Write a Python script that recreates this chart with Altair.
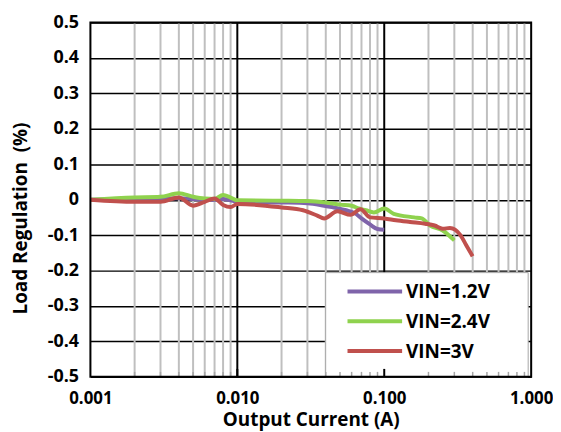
import altair as alt
import pandas as pd

series = ["VIN=1.2V", "VIN=2.4V", "VIN=3V"]
colors = ["#7F64AA", "#8FD24E", "#C0504D"]

i_12 = [0.001, 0.002, 0.003, 0.004, 0.005, 0.006, 0.007, 0.008, 0.009, 0.01,
        0.02, 0.03, 0.039, 0.048, 0.055, 0.063, 0.07, 0.08, 0.09, 0.1]
v_12 = [0.0, 0.002, 0.002, 0.004, 0.002, 0.0, 0.0, 0.002, -0.002, -0.006,
        -0.008, -0.01, -0.017, -0.024, -0.03, -0.038, -0.053, -0.07, -0.083, -0.085]

i_24 = [0.001, 0.002, 0.003, 0.004, 0.005, 0.006, 0.007, 0.008, 0.009, 0.01,
        0.02, 0.03, 0.04, 0.05, 0.06, 0.067, 0.075, 0.085, 0.1, 0.116,
        0.16, 0.18, 0.205, 0.25, 0.3]
v_24 = [0.0, 0.006, 0.008, 0.018, 0.008, 0.003, 0.002, 0.013, 0.006, -0.002,
        -0.003, -0.004, -0.008, -0.014, -0.017, -0.025, -0.03, -0.036, -0.025, -0.04,
        -0.05, -0.053, -0.073, -0.087, -0.115]

i_30 = [0.001, 0.002, 0.003, 0.004, 0.005, 0.006, 0.007, 0.008, 0.009, 0.01,
        0.02, 0.028, 0.035, 0.039, 0.048, 0.059, 0.069, 0.08, 0.1, 0.12,
        0.15, 0.19, 0.22, 0.25, 0.28, 0.33, 0.36, 0.40]
v_30 = [0.0, -0.006, -0.006, 0.006, -0.017, -0.006, 0.003, -0.015, -0.021, -0.012,
        -0.022, -0.03, -0.045, -0.053, -0.033, -0.043, -0.027, -0.05, -0.053, -0.058,
        -0.063, -0.068, -0.073, -0.082, -0.08, -0.1, -0.127, -0.16]

minor_ticks = [0.002, 0.003, 0.004, 0.005, 0.006, 0.007, 0.008, 0.009,
               0.02, 0.03, 0.04, 0.05, 0.06, 0.07, 0.08, 0.09,
               0.2, 0.3, 0.4, 0.5, 0.6, 0.7, 0.8, 0.9]
major_ticks = [0.01, 0.1]
x_labels = [0.001, 0.01, 0.1, 1.0]
y_labels = [0.5, 0.4, 0.3, 0.2, 0.1, 0.0, -0.1, -0.2, -0.3, -0.4, -0.5]

rows = []
for name, xs, ys in zip(series, [i_12, i_24, i_30], [v_12, v_24, v_30]):
    for k, (a, b) in enumerate(zip(xs, ys)):
        rows.append({"series": name, "I": a, "V": b, "k": k})
df = pd.DataFrame(rows)

W, H = 444, 357
FONT = "Open Sans"

xscale = alt.Scale(type="log", domain=[0.001, 1.0])
yscale = alt.Scale(domain=[-0.5, 0.5], nice=False, zero=False)
cscale = alt.Scale(domain=series, range=colors)

xaxis = alt.Axis(values=x_labels, format=".3f", grid=False, ticks=False, domain=False,
                 labelFontSize=17, labelFont=FONT, labelFontWeight="bold", labelColor="black",
                 labelPadding=14, labelFlush=False, labelOverlap=False,
                 title="Output Current (A)", titleFont=FONT, titleFontSize=19,
                 titleFontWeight="bold", titleColor="black", titlePadding=4)
yaxis = alt.Axis(values=y_labels, labelExpr="datum.value == 0 ? '0' : '' + datum.value",
                 grid=True, gridColor="black", gridWidth=1.5, gridOpacity=1,
                 ticks=False, domain=False,
                 labelFontSize=18, labelFont=FONT, labelFontWeight="bold", labelColor="black",
                 labelPadding=12,
                 title="Load Regulation\u00a0\u00a0(%)", titleFont=FONT, titleFontSize=19,
                 titleFontWeight="bold", titleColor="black",
                 titleX=-70, titleY=197, titleAlign="center", titleBaseline="middle", titleAngle=270)

X = alt.X("I:Q", scale=xscale, axis=xaxis)

minor_grid = alt.Chart(pd.DataFrame({"I": minor_ticks})).mark_rule(
    color="#BFBFBF", strokeWidth=2).encode(x=X)
major_grid = alt.Chart(pd.DataFrame({"I": major_ticks})).mark_rule(
    color="black", strokeWidth=2).encode(x=X)

lines = alt.Chart(df).mark_line(strokeWidth=4, interpolate="monotone").encode(
    x=X,
    y=alt.Y("V:Q", scale=yscale, axis=yaxis),
    color=alt.Color("series:N", scale=cscale, legend=None),
    order="k:Q",
    detail="series:N",
)

legend_box = alt.Chart(pd.DataFrame({"a": [0]})).mark_rect(
    fill="white", stroke="#A6A6A6", strokeWidth=1).encode(
    x=alt.value(237), x2=alt.value(441), y=alt.value(252), y2=alt.value(357))

bottom_ticks = alt.Chart(pd.DataFrame({"I": minor_ticks})).mark_rule(
    color="#A6A6A6", strokeWidth=1.5).encode(x=X, y=alt.value(H), y2=alt.value(H - 5))
bottom_major = alt.Chart(pd.DataFrame({"I": major_ticks})).mark_rule(
    color="black", strokeWidth=2).encode(x=X, y=alt.value(H), y2=alt.value(H - 8))

leg_df = pd.DataFrame({"series": series, "idx": list(range(len(series)))})
leg_base = alt.Chart(leg_df).transform_calculate(ly="271 + 30 * datum.idx")
leg_lines = leg_base.mark_rule(strokeWidth=4).encode(
    x=alt.value(259), x2=alt.value(314),
    y=alt.Y("ly:Q", scale=None),
    color=alt.Color("series:N", scale=cscale, legend=None))
leg_text = leg_base.mark_text(align="left", baseline="middle", fontSize=19,
                              fontWeight="bold", font=FONT, color="black", dy=1).encode(
    x=alt.value(318), y=alt.Y("ly:Q", scale=None), text="series:N")

frame = alt.Chart(pd.DataFrame({"a": [0]})).mark_rect(
    fill="transparent", stroke="black", strokeWidth=2).encode(
    x=alt.value(0), x2=alt.value(W), y=alt.value(0), y2=alt.value(H))

chart = alt.layer(minor_grid, major_grid, lines, legend_box, bottom_ticks, bottom_major,
                  leg_lines, leg_text, frame).properties(
    width=W, height=H,
    autosize=alt.AutoSizeParams(type="none"),
    padding={"left": 83, "top": 13, "right": 22, "bottom": 54},
).configure_view(stroke=None).configure(background="white")

chart.save("out.html", embed_options={"renderer": "svg", "actions": False})
